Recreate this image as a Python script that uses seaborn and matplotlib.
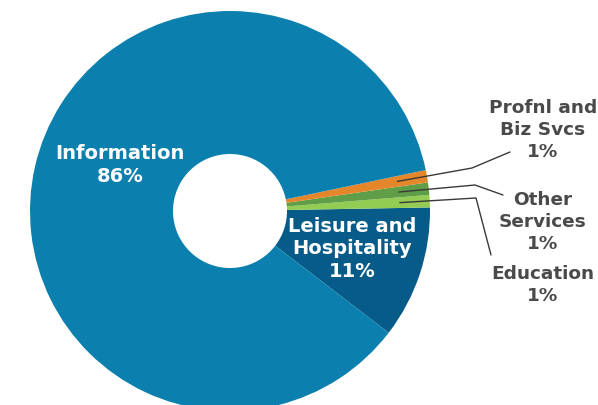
import numpy as np
import seaborn as sns
import matplotlib.pyplot as plt

# data
sectors = ['Leisure and Hospitality', 'Education', 'Other Services', 'Profnl and Biz Svcs', 'Information']
shares = [10.7, 1.0, 1.0, 1.0, 86.3]
labels = ['Leisure and\nHospitality\n11%', 'Education\n1%', 'Other\nServices\n1%',
          'Profnl and\nBiz Svcs\n1%', 'Information\n86%']
colors = ['#065b88', '#93cc52', '#5f9e47', '#e5862b', '#0b80ae']

sns.set_theme(style='white')
plt.rcParams['font.family'] = ['DejaVu Sans']

fig = plt.figure(figsize=(5.98, 4.05), dpi=100)
ax = fig.add_axes([0, 0, 1, 1])

wedges, _ = ax.pie(shares, colors=colors, startangle=-37.5, counterclock=True,
                   radius=1.0, wedgeprops=dict(width=0.715, linewidth=0))

ax.set_xlim(-1.15, 1.84)
ax.set_ylim(-0.97, 1.055)
ax.set_aspect('auto')
ax.axis('off')

# labels inside the ring
ax.text(-0.55, 0.23, labels[4], color='white', fontsize=14, fontweight='bold',
        ha='center', va='center', linespacing=1.25)
ax.text(0.61, -0.19, labels[0], color='white', fontsize=14, fontweight='bold',
        ha='center', va='center', linespacing=1.25)

# outside labels with leader lines
grey = '#4a4a4a'
outside = {
    3: ((1.565, 0.405), (1.21, 0.215), (1.40, 0.295)),
    2: ((1.565, -0.055), (1.225, 0.13), (1.365, 0.08)),
    1: ((1.565, -0.37), (1.23, 0.065), (1.305, -0.22)),
}
for i, (txt_pos, elbow, end) in outside.items():
    w = wedges[i]
    mid = np.deg2rad((w.theta1 + w.theta2) / 2)
    start = (0.85 * np.cos(mid), 0.85 * np.sin(mid))
    ax.plot([start[0], elbow[0], end[0]], [start[1], elbow[1], end[1]],
            color='#3a3a3a', lw=1.0, clip_on=False)
    ax.text(txt_pos[0], txt_pos[1], labels[i], color=grey, fontsize=13.3,
            fontweight='bold', ha='center', va='center', linespacing=1.3)

fig.savefig('out.png', dpi=100)
